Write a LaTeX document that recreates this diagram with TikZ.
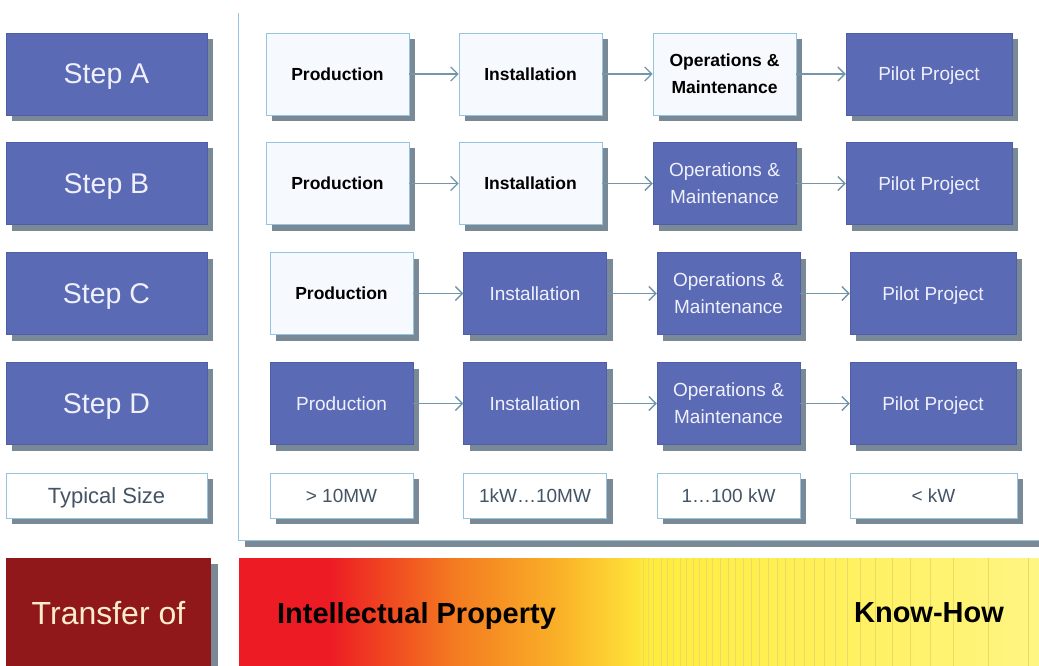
\documentclass[tikz,border=0pt]{standalone}
\usepackage{fontspec}
\setmainfont{Liberation Sans}
\usetikzlibrary{arrows.meta,shadows}
\definecolor{stepblue}{RGB}{90,106,180}
\definecolor{stepedge}{RGB}{80,95,165}
\definecolor{lightfill}{RGB}{246,249,253}
\definecolor{edgeblue}{RGB}{150,195,222}
\definecolor{shadowc}{RGB}{122,137,150}
\definecolor{arrowc}{RGB}{115,150,170}
\definecolor{darkred}{RGB}{145,24,26}
\definecolor{cream}{RGB}{250,236,205}
\definecolor{sizetext}{RGB}{68,84,100}
\definecolor{steptext}{RGB}{240,240,252}
\definecolor{gred}{RGB}{237,28,36}
\definecolor{gorange}{RGB}{243,120,32}
\definecolor{gamber}{RGB}{250,178,40}
\definecolor{gyellow}{RGB}{255,236,60}
\definecolor{gpale}{RGB}{255,245,130}
\definecolor{linec}{RGB}{232,220,100}
\tikzset{
  shad/.style={drop shadow={shadow xshift=6pt,shadow yshift=-6pt,opacity=1,fill=shadowc}},
  box/.style={shad, minimum width=143pt, minimum height=82pt, inner sep=0pt, align=center},
  one/.style={text depth=0pt},
  done/.style={box, fill=lightfill, draw=edgeblue, line width=0.8pt,
    font=\fontsize{17.5}{27}\selectfont\bfseries, text=black},
  todo/.style={box, fill=stepblue, draw=stepedge, line width=0.5pt,
    font=\fontsize{19}{27}\selectfont, text=steptext},
  pilot/.style={minimum width=166pt},
  stepbox/.style={shad, one, fill=stepblue, draw=stepedge, line width=0.5pt, minimum width=201pt,
    minimum height=82pt, inner sep=0pt, font=\fontsize{28.5}{32}\selectfont, text=steptext},
  sizebox/.style={shad, one, fill=white, draw=edgeblue, line width=0.8pt, minimum width=143pt,
    minimum height=45pt, inner sep=0pt, font=\fontsize{19}{22}\selectfont, text=sizetext},
  arr/.style={draw=arrowc, line width=1.3pt, -{Straight Barb[length=7pt,width=14pt,line width=1.3pt]}},
  bartext/.style={one, font=\fontsize{29}{33}\selectfont\bfseries, text=black}
}
\begin{document}
\begin{tikzpicture}[x=1pt,y=-1pt]
\useasboundingbox (0,0) rectangle (1039,666);
\fill[white] (0,0) rectangle (1039,666);
% frame
\fill[shadowc] (245,541) rectangle (1039,546.5);
\draw[edgeblue, line width=0.8pt] (238,13) -- (238,540) -- (1039,540);
% step column
\node[stepbox] (sa) at (106.5,74) {Step A};
\node[stepbox] (sb) at (106.5,183.5) {Step B};
\node[stepbox] (sc) at (106.5,293.5) {Step C};
\node[stepbox] (sd) at (106.5,403.5) {Step D};
\node[sizebox, minimum width=201pt, font=\fontsize{22}{26}\selectfont] (ts) at (106.5,495.5) {Typical Size};
% row A
\node[done,one] (a1) at (337.5,74) {Production};
\node[done,one] (a2) at (530.5,74) {Installation};
\node[done] (a3) at (724.5,74) {Operations \&\\Maintenance};
\node[todo,pilot,one] (a4) at (929,74) {Pilot Project};
% row B
\node[done,one] (b1) at (337.5,183.5) {Production};
\node[done,one] (b2) at (530.5,183.5) {Installation};
\node[todo] (b3) at (724.5,183.5) {Operations \&\\Maintenance};
\node[todo,pilot,one] (b4) at (929,183.5) {Pilot Project};
% row C
\node[done,one] (c1) at (341.5,293.5) {Production};
\node[todo,one] (c2) at (535,293.5) {Installation};
\node[todo] (c3) at (728.5,293.5) {Operations \&\\Maintenance};
\node[todo,pilot,one] (c4) at (933,293.5) {Pilot Project};
% row D
\node[todo,one] (d1) at (341.5,403.5) {Production};
\node[todo,one] (d2) at (535,403.5) {Installation};
\node[todo] (d3) at (728.5,403.5) {Operations \&\\Maintenance};
\node[todo,pilot,one] (d4) at (933,403.5) {Pilot Project};
% sizes
\node[sizebox] (z1) at (341.5,495.5) {> 10MW};
\node[sizebox] (z2) at (535,495.5) {1kW\ldots10MW};
\node[sizebox] (z3) at (728.5,495.5) {1\ldots100 kW};
\node[sizebox, minimum width=167pt] (z4) at (933.5,495.5) {< kW};
% arrows
\foreach \r in {a,b,c,d}{
  \draw[arr] (\r1) -- (\r2);
  \draw[arr] (\r2) -- (\r3);
  \draw[arr] (\r3) -- (\r4);
}
% transfer
\fill[shadowc] (211,564) rectangle (217.5,666);
\fill[darkred] (6,558) rectangle (211,666);
\node[one, font=\fontsize{32}{36}\selectfont, text=cream] (tr) at (108.5,613) {Transfer of};
% gradient bar
\fill[gred] (239,558) rectangle (331,666);
\shade[left color=gred, right color=gorange] (330,558) rectangle (451,666);
\shade[left color=gorange, right color=gamber] (450,558) rectangle (561,666);
\shade[left color=gamber, right color=gyellow] (560,558) rectangle (651,666);
\shade[left color=gyellow, right color=gpale] (650,558) rectangle (1039,666);
\foreach \x in {643,648,653,661,667,673,680,686,693,699,706,712,720,728,735,743,751,759,768,777,785,794,804,814,824,835,847,860,875,892,910,930,953,988,1028}
  \draw[linec, line width=0.4pt] (\x,558) -- (\x,666);
\node[bartext] (ip) at (416.5,613) {Intellectual Property};
\node[bartext] (kh) at (929,613) {Know-How};
\end{tikzpicture}
\end{document}
